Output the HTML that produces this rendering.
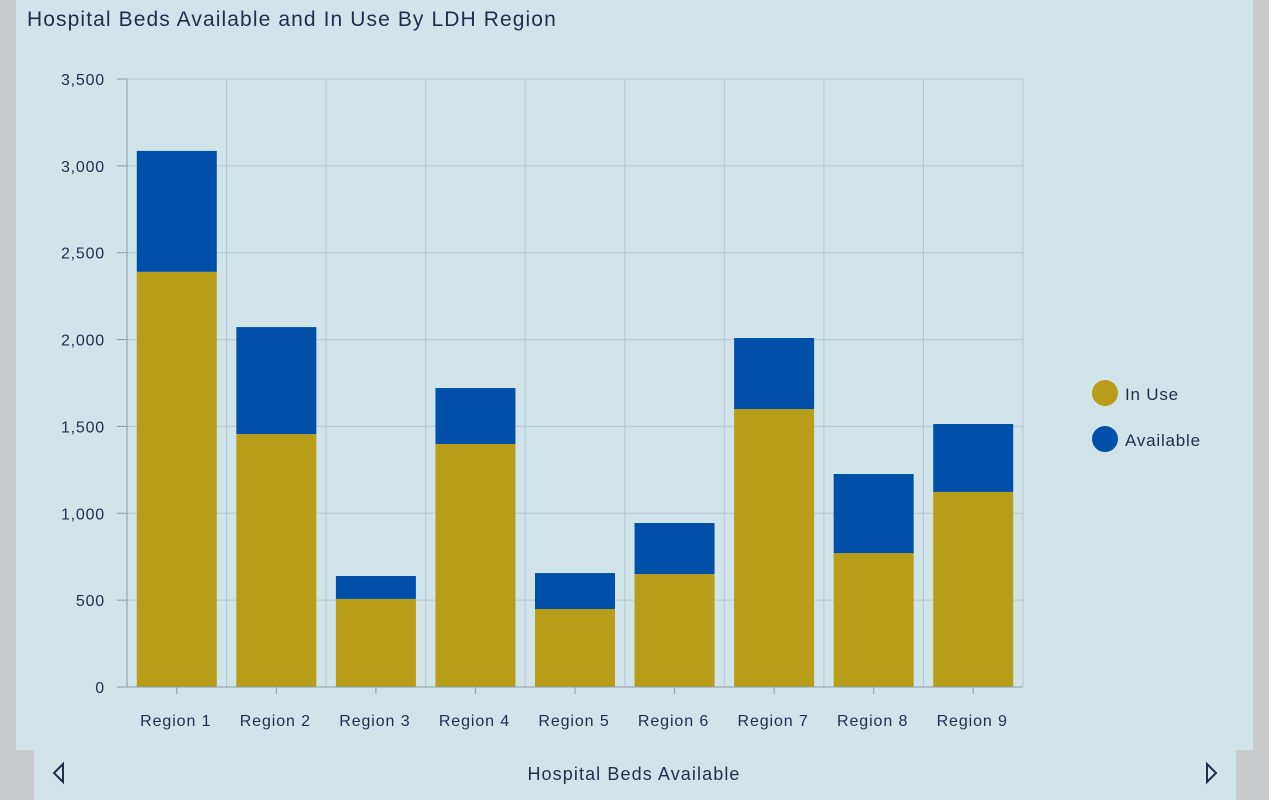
<!DOCTYPE html>
<html><head><meta charset="utf-8"><style>
body{margin:0;width:1269px;height:800px;background:#c9cbcd;overflow:hidden;font-family:"Liberation Sans",sans-serif;}
#panel{position:absolute;left:16px;top:0;width:1237px;height:750px;background:#d1e4ea;}
#bottom{position:absolute;left:34px;top:750px;width:1202px;height:50px;background:#d1e4ea;}
#title{position:absolute;left:27px;top:8px;font-size:21px;letter-spacing:1.1px;color:#1c2f4f;}
svg{position:absolute;left:0;top:0;}
</style></head><body>
<div id="panel"></div>
<div id="bottom"></div>
<div id="title">Hospital Beds Available and In Use By LDH Region</div>
<svg id="chart" width="1269" height="800"></svg>
<script>
const categories=["Region 1","Region 2","Region 3","Region 4","Region 5","Region 6","Region 7","Region 8","Region 9"];
const inUse=[2390,1456,507,1399,449,650,1600,771,1123];
const available=[696,616,132,322,207,294,409,455,391];
const yTicks=[0,500,1000,1500,2000,2500,3000,3500];
const yTickLabels=["0","500","1,000","1,500","2,000","2,500","3,000","3,500"];
const seriesNames=["In Use","Available"];
const colors=["#b89d19","#0050aa"];
const svg=document.getElementById('chart');const NS="http://www.w3.org/2000/svg";
const L=127,R=1023,T=79,B=687,yMax=3500;
const y=v=>B-v/yMax*(B-T);
const bw=(R-L)/categories.length;
const x=i=>L+i*bw;
function mk(t,a,txt){const e=document.createElementNS(NS,t);for(const k in a)e.setAttribute(k,a[k]);if(txt!=null)e.textContent=txt;svg.appendChild(e);return e;}
yTicks.forEach((v,i)=>{
 const g=mk('line',{x1:L,x2:R,y1:y(v),y2:y(v),stroke:'#b6c6d0','stroke-width':1});
 
 const tk=mk('line',{x1:117,x2:L,y1:y(v),y2:y(v),stroke:'#8a9aa6'});
 
 const t=mk('text',{x:105,y:y(v)+6,'text-anchor':'end','font-size':16,'letter-spacing':0.8,fill:'#1c2f4f'},yTickLabels[i]);
 
});
for(let i=0;i<=categories.length;i++){
 const g=mk('line',{x1:x(i),x2:x(i),y1:T,y2:B,stroke:'#b6c6d0'});
 
}
const ya=mk('line',{x1:L,x2:L,y1:T,y2:B,stroke:'#8a9aa6'});

categories.forEach((c,i)=>{
 const cx=x(i)+bw/2,w=80;
 const b1=mk('rect',{x:cx-w/2,y:y(inUse[i]),width:w,height:B-y(inUse[i]),fill:colors[0]});
 
 const top=inUse[i]+available[i];
 const b2=mk('rect',{x:cx-w/2,y:y(top),width:w,height:y(inUse[i])-y(top),fill:colors[1]});
 
 const tk=mk('line',{x1:cx,x2:cx,y1:B,y2:B+7,stroke:'#8a9aa6'});
 
 const t=mk('text',{x:cx-1,y:726,'text-anchor':'middle','font-size':16,'letter-spacing':0.9,fill:'#1c2f4f'},c);
 
});
const xa=mk('line',{x1:117,x2:R,y1:B,y2:B,stroke:'#8a9aa6'});

seriesNames.forEach((n,i)=>{
 const c=mk('circle',{cx:1105,cy:393+i*46,r:13,fill:colors[i]});
 
 const t=mk('text',{x:1125,y:400+i*46,'font-size':17,'letter-spacing':0.8,fill:'#1c2f4f'},n);
 
});
const pt=mk('text',{x:634,y:780,'text-anchor':'middle','font-size':18,'letter-spacing':1.1,fill:'#1c2f4f'},'Hospital Beds Available');

const pl=mk('path',{d:'M63 764 L54 773 L63 782 Z',fill:'none',stroke:'#1c2f4f','stroke-width':2});

const pr=mk('path',{d:'M1207 764 L1216 773 L1207 782 Z',fill:'none',stroke:'#1c2f4f','stroke-width':2});

</script>
</body></html>
